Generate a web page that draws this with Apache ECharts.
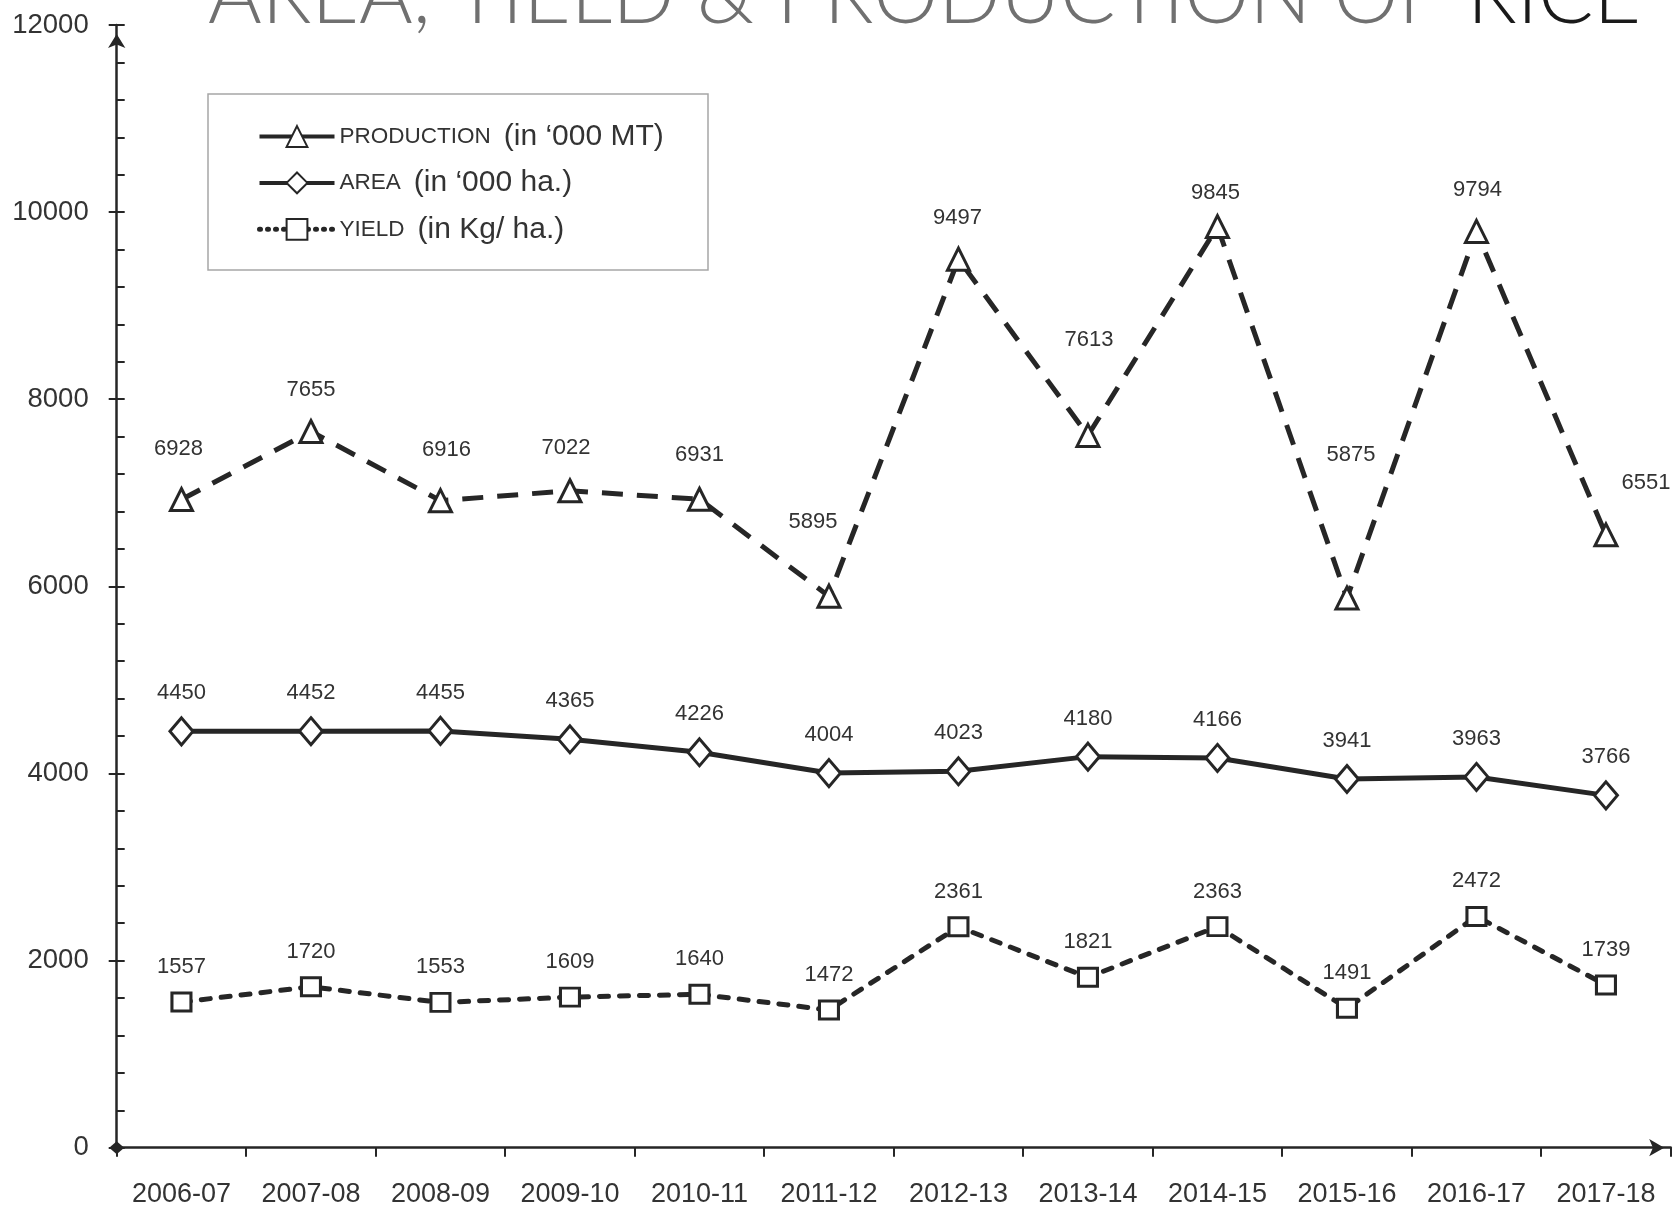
<!DOCTYPE html>
<html><head><meta charset="utf-8">
<script src="https://cdn.jsdelivr.net/npm/echarts@6/dist/echarts.min.js"></script>
<style>html,body{margin:0;padding:0;background:#fff}#c{width:1674px;height:1210px}</style>
</head><body><div id="c"></div>
<script>
const categories = ['2006-07','2007-08','2008-09','2009-10','2010-11','2011-12','2012-13','2013-14','2014-15','2015-16','2016-17','2017-18'];
const production = [6928,7655,6916,7022,6931,5895,9497,7613,9845,5875,9794,6551];
const area = [4450,4452,4455,4365,4226,4004,4023,4180,4166,3941,3963,3766];
const yieldKgHa = [1557,1720,1553,1609,1640,1472,2361,1821,2363,1491,2472,1739];
const yMin = 0, yMax = 12000, yStep = 2000;
const seriesNames = ['PRODUCTION','AREA','YIELD'];
const seriesUnits = ['(in \u2018000 MT)','(in \u2018000 ha.)','(in Kg/ ha.)'];
// label nudges (pixels) for production labels, as placed in the original
const productionLabelNudge = [[-3,-51],[0,-42],[6,-51],[-4,-43],[0,-44],[-16,-74],[-1,-41],[1,-96],[-2,-34],[4,-143],[1,-41],[40,-52]];

const FONT = "'Liberation Sans', Arial, sans-serif";
const TFONT = "300 82px Lato, 'DejaVu Sans', sans-serif";
const INK = '#262626';
const TXT = '#333333';

const chart = echarts.init(document.getElementById('c'), null, {renderer:'canvas'});

function labelCfg(dy){
  return {show:true, position:'inside', offset:[0,dy], color:TXT, fontSize:22, fontFamily:FONT};
}

const option = {
  animation:false,
  backgroundColor:'#ffffff',
  grid:{left:116.7, right:3.3, top:25, bottom:62.3, containLabel:false},
  graphic:[
    {type:'rect', shape:{x:208, y:94, width:500, height:176}, style:{fill:'none', stroke:'#a6a6a6', lineWidth:1.5}, z:1},
    {type:'text', x:208, y:-3.5, style:{
      text:'AREA, YIELD & PRODUCTION OF {r|RICE}',
      font:TFONT, fill:'#707070', verticalAlign:'middle',
      rich:{r:{fill:'#1a1a1a', font:TFONT}}
    }, z:1}
  ],
  legend:{
    orient:'vertical', left:257, top:121.5, padding:0,
    itemWidth:75, itemHeight:26, itemGap:16.4,
    data:[
      {name:'PRODUCTION', lineStyle:{type:'solid', color:INK, width:4}},
      {name:'AREA', lineStyle:{type:'solid', color:INK, width:4}},
      {name:'YIELD', lineStyle:{type:[1,7], color:INK, width:5, cap:'round'}}
    ],
    formatter:function(name){
      const i = seriesNames.indexOf(name);
      return '{a|' + name + '}{b|' + seriesUnits[i] + '}';
    },
    textStyle:{color:TXT, fontFamily:FONT, rich:{
      a:{fontSize:22.5, lineHeight:30, color:TXT, fontFamily:FONT},
      b:{fontSize:30, lineHeight:30, color:TXT, fontFamily:FONT, padding:[0,0,0,13]}
    }}
  },
  xAxis:{
    type:'category', data:categories, boundaryGap:true,
    axisLine:{show:true, symbol:['diamond','arrow'], symbolSize:[13,15], symbolOffset:[0,-6.5], lineStyle:{color:INK, width:2.5}},
    axisTick:{show:true, inside:false, length:9, interval:0, lineStyle:{color:INK, width:2}},
    axisLabel:{color:TXT, fontSize:27, fontFamily:FONT, margin:33, interval:0},
    splitLine:{show:false}
  },
  yAxis:[
    {
      type:'value', min:yMin, max:yMax, interval:yStep, position:'left',
      axisLine:{show:true, symbol:['none','arrow'], symbolSize:[13,14], symbolOffset:[0,-9], lineStyle:{color:INK, width:2.5}},
      axisTick:{show:true, inside:true, length:8, lineStyle:{color:INK, width:2}},
      minorTick:{show:true, splitNumber:5, length:8, lineStyle:{color:INK, width:2}},
      axisLabel:{color:TXT, fontSize:27.5, fontFamily:FONT, margin:28, formatter:function(v){ return String(v); }},
      splitLine:{show:false}, minorSplitLine:{show:false}
    },
    {
      type:'value', min:yMin, max:yMax, interval:yStep, position:'left', offset:0,
      axisLine:{show:false},
      axisTick:{show:true, inside:false, length:8, lineStyle:{color:INK, width:2}},
      axisLabel:{show:false}, splitLine:{show:false}
    }
  ],
  series:[
    {
      name:'PRODUCTION', type:'line', yAxisIndex:0,
      data:production.map(function(v,i){ return {value:v, label:{offset:productionLabelNudge[i]}}; }),
      symbol:'triangle', symbolSize:22,
      itemStyle:{color:'#ffffff', borderColor:INK, borderWidth:3},
      lineStyle:{color:INK, width:5, type:[21,14]},
      label:labelCfg(-42), z:3
    },
    {
      name:'AREA', type:'line', yAxisIndex:0, data:area,
      symbol:'diamond', symbolSize:[23,27],
      itemStyle:{color:'#ffffff', borderColor:INK, borderWidth:3},
      lineStyle:{color:INK, width:5, type:'solid'},
      label:labelCfg(-38), z:3
    },
    {
      name:'YIELD', type:'line', yAxisIndex:0, data:yieldKgHa,
      symbol:'rect', symbolSize:[19,18],
      itemStyle:{color:'#ffffff', borderColor:INK, borderWidth:3},
      lineStyle:{color:INK, width:5, type:[9,11], cap:'round'},
      label:labelCfg(-35), z:3
    }
  ]
};
chart.setOption(option);
</script>
</body></html>
